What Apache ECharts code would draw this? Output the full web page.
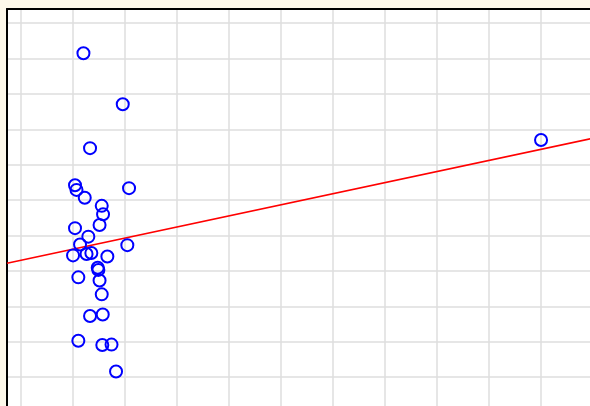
<!DOCTYPE html>
<html>
<head>
<meta charset="utf-8">
<script src="https://cdn.jsdelivr.net/npm/echarts@6/dist/echarts.min.js"></script>
<style>
html,body{margin:0;padding:0;background:#fdf8ea;}
#chart{width:590px;height:406px;}
</style>
</head>
<body>
<div id="chart"></div>
<script>
// Scatter points [x, y]
const pointsX = [12.0, 19.56, 13.27, 10.38, 10.67, 20.77, 12.25, 15.52, 15.77, 15.10,
                 10.38, 12.94, 11.35, 20.44, 10.0, 12.6, 13.52, 16.6, 14.75, 14.87,
                 11.02, 15.10, 15.52, 13.27, 15.71, 11.02, 15.63, 17.40, 18.27, 100.0];
const pointsY = [91.5, 77.1, 64.7, 54.2, 52.9, 53.4, 50.7, 48.4, 46.0, 43.0,
                 42.1, 39.7, 37.5, 37.3, 34.4, 34.8, 35.1, 34.1, 30.9, 30.3,
                 28.2, 27.3, 23.4, 17.3, 17.7, 10.3, 9.1, 9.2, 1.6, 67.0];
// Fitted line end points
const lineX = [-2.7, 117.3];
const lineY = [32.2, 69.8];

const scatterData = pointsX.map((x, i) => [x, pointsY[i]]);
const lineData = lineX.map((x, i) => [x, lineY[i]]);

const chart = echarts.init(document.getElementById('chart'), null, {renderer: 'canvas'});
chart.setOption({
  backgroundColor: '#fdf8ea',
  animation: false,
  grid: {
    left: 7, top: 9, width: 624, height: 439,
    outerBoundsMode: 'none',
    containLabel: false,
    show: true, backgroundColor: '#ffffff', borderWidth: 0
  },
  xAxis: {
    type: 'value', position: 'top',
    min: -2.7, max: 117.3,
    minInterval: 10, maxInterval: 10,
    axisLine: {show: true, onZero: false, lineStyle: {color: '#000', width: 2}},
    axisTick: {show: false},
    axisLabel: {show: false},
    splitLine: {show: true, lineStyle: {color: '#dedede', width: 1.5}}
  },
  yAxis: {
    type: 'value',
    min: -20, max: 104,
    minInterval: 10, maxInterval: 10,
    axisLine: {show: true, onZero: false, lineStyle: {color: '#000', width: 2}},
    axisTick: {show: false},
    axisLabel: {show: false},
    splitLine: {show: true, lineStyle: {color: '#dedede', width: 1.5}}
  },
  series: [
    {
      type: 'line',
      data: lineData,
      symbol: 'none',
      lineStyle: {color: '#ff0000', width: 1.6},
      z: 2
    },
    {
      type: 'scatter',
      data: scatterData,
      symbol: 'circle',
      symbolSize: 12,
      itemStyle: {color: 'rgba(0,0,0,0)', borderColor: '#0000ff', borderWidth: 2, opacity: 1},
      z: 3
    }
  ]
});
</script>
</body>
</html>
